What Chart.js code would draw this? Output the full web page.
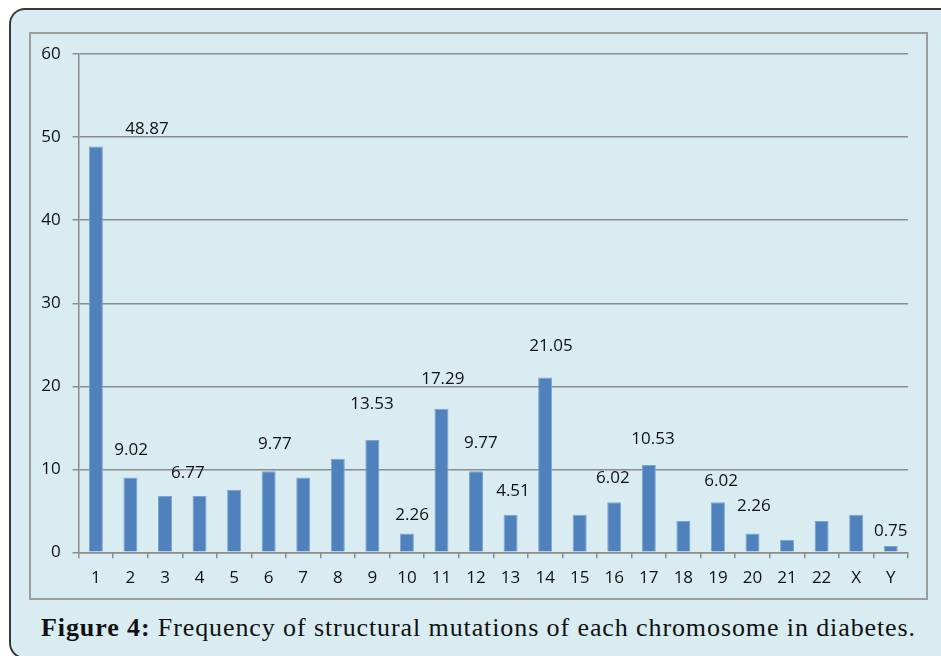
<!DOCTYPE html>
<html>
<head>
<meta charset="utf-8">
<script src="https://cdn.jsdelivr.net/npm/chart.js@4.4.1/dist/chart.umd.min.js"></script>
<style>
  html, body { margin: 0; padding: 0; background: #ffffff; overflow: hidden; }
  #page { position: relative; width: 941px; height: 656px; overflow: hidden; background: #ffffff; }
  #outer { position: absolute; left: 9px; top: 8px; width: 1200px; height: 651px; box-sizing: border-box;
           border: 2px solid #3a3a3a; border-right: none; border-radius: 16px 0 0 16px; background: #d8ecf1; }
  #frame { position: absolute; left: 29px; top: 32px; width: 899px; height: 568px; box-sizing: border-box;
           border: 2px solid #9c9c9c; pointer-events: none; }
  #wrap { position: absolute; left: 29px; top: 32px; width: 899px; height: 568px; }
  #caption { position: absolute; left: 0; width: 957px; top: 613px; text-align: center; letter-spacing: 0.9px;
             font-family: "Liberation Serif", serif; font-size: 26px; color: #111; white-space: nowrap; }
</style>
</head>
<body>
<div id="page">
<div id="outer"></div>
<div id="wrap"><canvas id="c" width="899" height="568"></canvas></div>
<div id="frame"></div>
<div id="caption"><b>Figure 4:</b> Frequency of structural mutations of each chromosome in diabetes.</div>
</div>
<script>
const chromosomes = ["1","2","3","4","5","6","7","8","9","10","11","12","13","14","15","16","17","18","19","20","21","22","X","Y"];
const frequencies = [48.87, 9.02, 6.77, 6.77, 7.52, 9.77, 9.02, 11.28, 13.53, 2.26, 17.29, 9.77, 4.51, 21.05, 4.51, 6.02, 10.53, 3.76, 6.02, 2.26, 1.50, 3.76, 4.51, 0.75];
const yTicks = [0, 10, 20, 30, 40, 50, 60];
// Free-floating data label texts, with their anchor in data units (category index, value)
const labelTexts = ["48.87","9.02","6.77","9.77","13.53","2.26","17.29","9.77","4.51","21.05","6.02","10.53","6.02","2.26","0.75"];
const labelCat   = [1.48, 1.02, 2.66, 5.18, 7.99, 9.15, 10.04, 11.14, 12.07, 13.17, 14.96, 16.12, 18.09, 19.04, 23.0];
const labelVal   = [51.0, 12.3, 9.5, 13.0, 17.9, 4.5, 20.9, 13.1, 7.4, 24.8, 8.9, 13.6, 8.6, 5.6, 2.6];

const FONT = '"Open Sans", sans-serif';

const labelPlugin = {
  id: 'floatLabels',
  afterDatasetsDraw(chart) {
    const ctx = chart.ctx, xs = chart.scales.x, ys = chart.scales.y;
    ctx.save();
    ctx.font = '17px ' + FONT;
    ctx.fillStyle = '#111';
    ctx.textAlign = 'center';
    ctx.textBaseline = 'middle';
    labelTexts.forEach((t, i) => {
      ctx.fillText(t, xs.getPixelForValue(labelCat[i]), ys.getPixelForValue(labelVal[i]));
    });
    ctx.restore();
  }
};

new Chart(document.getElementById('c'), {
  type: 'bar',
  data: {
    labels: chromosomes,
    datasets: [{
      data: frequencies,
      backgroundColor: '#4f81bd',
      borderColor: '#7fa3cf',
      borderWidth: 1,
      barPercentage: 0.405,
      categoryPercentage: 1.0
    }]
  },
  options: {
    responsive: false,
    animation: false,
    devicePixelRatio: 1,
    layout: { padding: { top: 20.7, right: 20, left: 0, bottom: 0 } },
    plugins: { legend: { display: false }, tooltip: { enabled: false }, title: { display: false } },
    scales: {
      x: {
        offset: true,
        grid: { display: true, drawOnChartArea: false, drawTicks: true, tickLength: 6, color: '#8c8c8c', lineWidth: 1.5, offset: true },
        border: { display: true, color: '#8c8c8c', width: 1.5 },
        ticks: { font: { family: FONT, size: 17 }, color: '#111', padding: 10, maxRotation: 0, autoSkip: false },
        afterFit(s) { s.height = 47.7; }
      },
      y: {
        min: 0, max: 60,
        afterBuildTicks(s) { s.ticks = yTicks.map(v => ({ value: v })); },
        grid: { display: true, drawOnChartArea: true, drawTicks: true, tickLength: 6, color: '#8c8c8c', lineWidth: 1.5 },
        border: { display: true, color: '#8c8c8c', width: 1.5 },
        ticks: { font: { family: FONT, size: 17 }, color: '#111', padding: 12 },
        afterFit(s) { s.width = 49.6; }
      }
    }
  },
  plugins: [labelPlugin]
});
</script>
</body>
</html>
